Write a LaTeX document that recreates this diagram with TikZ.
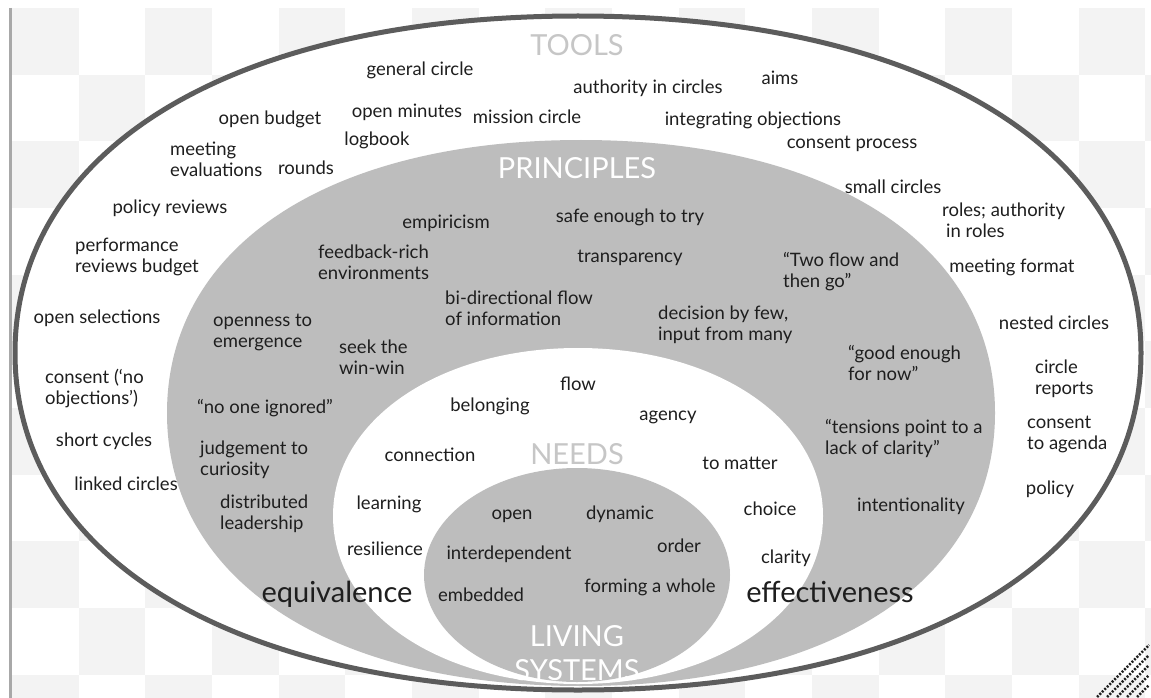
\documentclass[tikz,border=0pt]{standalone}
\usepackage{fontspec}
\setmainfont{Lato}

\definecolor{checkgray}{HTML}{F3F3F3}
\definecolor{bargray}{HTML}{A8A8A8}
\definecolor{rimgray}{HTML}{5C5C5C}
\definecolor{fillgray}{HTML}{BDBDBD}
\definecolor{headgray}{HTML}{C6C6C6}
\definecolor{ink}{HTML}{1E1E1E}

\newcommand{\blob}[6]{%
	\path[#1] (#2+#4,#3) .. controls (#2+#4,#3+#6*#5) and (#2+#6*#4,#3+#5) .. (#2,#3+#5)
		.. controls (#2-#6*#4,#3+#5) and (#2-#4,#3+#6*#5) .. (#2-#4,#3)
		.. controls (#2-#4,#3-#6*#5) and (#2-#6*#4,#3-#5) .. (#2,#3-#5)
		.. controls (#2+#6*#4,#3-#5) and (#2+#4,#3-#6*#5) .. cycle;}

\begin{document}
\begin{tikzpicture}[x=1pt,y=-1pt,
		txt/.style={inner sep=0pt, text=ink, font=\fontsize{18.5}{21}\selectfont},
		word/.style={txt, text height=1.2em, text depth=0pt},
		words/.style={txt, anchor=west, align=left},
		head/.style={inner sep=0pt, font=\fontsize{29}{34}\selectfont},
		big/.style={head, text=ink, text height=1.4em, text depth=0pt}]
			\useasboundingbox (0,0) rectangle (1151,698);
			\fill[white] (0,0) rectangle (1151,698);
			\begin{scope}
				\clip (12,8) rectangle (1151,698);
				\foreach \i in {0,...,17}
					\foreach \j in {0,...,10}{
						\pgfmathtruncatemacro{\cellparity}{mod(\i+\j,2)}
						\ifnum\cellparity=0 \fill[checkgray] ({12+66.67*\i},{8+66.67*\j}) rectangle ++(66.67,66.67); \fi
					}
			\end{scope}
			\draw[bargray, line width=3pt] (10,8) -- (10,698);
			\blob{fill=white}{578}{353}{563}{337}{0.61}
			\blob{fill=fillgray}{581}{413}{414}{273}{0.61}
			\blob{fill=white}{578}{516}{245}{168}{0.57}
			\blob{fill=fillgray}{577}{575}{153}{107}{0.5523}
			\blob{draw=rimgray, line width=5pt}{578}{353}{563}{337}{0.61}
			\node[head, text=headgray] (tools) at (577,45) {TOOLS};
			\node[word] (general) at (420,70) {general circle};
			\node[word] (minutes) at (407,112) {open minutes};
			\node[word] (logbook) at (377,140) {logbook};
			\node[word] (mission) at (527,118) {mission circle};
			\node[word] (authority) at (648,88) {authority in circles};
			\node[word] (aims) at (780,79) {aims};
			\node[word] (integrating) at (753,120) {integrating objections};
			\node[word] (process) at (852,143) {consent process};
			\node[word] (small) at (893,187) {small circles};
			\node[words] (roles) at (942,220) {roles; authority\\\hspace*{4pt}in roles};
			\node[word] (budget) at (270,119) {open budget};
			\node[words] (evaluations) at (170,159) {meeting\\evaluations};
			\node[word] (rounds) at (306,168) {rounds};
			\node[word] (reviews) at (170,207) {policy reviews};
			\node[words] (performance) at (75,257) {performance\\reviews budget};
			\node[word] (selections) at (97,317) {open selections};
			\node[words] (consent) at (45,389) {consent (‘no\\objections’)};
			\node[word] (cycles) at (104,440) {short cycles};
			\node[word] (linked) at (126,484) {linked circles};
			\node[word] (format) at (1012,266) {meeting format};
			\node[word] (nested) at (1054,323) {nested circles};
			\node[words] (reports) at (1035,379) {circle\\reports};
			\node[words] (agenda) at (1027,434) {consent\\to agenda};
			\node[word] (policy) at (1050,488) {policy};
			\node[head, text=white] (principles) at (577,168) {PRINCIPLES};
			\node[word] (empiricism) at (446,222) {empiricism};
			\node[word] (safe) at (630,216) {safe enough to try};
			\node[words] (feedback) at (318,262) {feedback-rich\\environments};
			\node[word] (transparency) at (630,256) {transparency};
			\node[words] (bidir) at (445,308) {bi-directional flow\\of information};
			\node[words] (decision) at (658,325) {decision by few,\\input from many};
			\node[words] (twoflow) at (783,272) {“Two flow and\\then go”};
			\node[words] (openness) at (213,332) {openness to\\emergence};
			\node[words] (winwin) at (339,357) {seek the\\win-win};
			\node[words] (goodenough) at (848,363) {“good enough\\for now”};
			\node[word] (ignored) at (265,407) {“no one ignored”};
			\node[words] (judgement) at (200,460) {judgement to\\curiosity};
			\node[words] (distributed) at (220,514) {distributed\\leadership};
			\node[words] (tensions) at (825,439) {“tensions point to a\\lack of clarity”};
			\node[word] (intentionality) at (911,505) {intentionality};
			\node[big] (equivalence) at (337,595) {equivalence};
			\node[big] (effectiveness) at (830,595) {effectiveness};
			\node[head, text=headgray] (needs) at (577,454) {NEEDS};
			\node[word] (flow) at (578,384) {flow};
			\node[word] (belonging) at (490,405) {belonging};
			\node[word] (agency) at (668,414) {agency};
			\node[word] (connection) at (430,455) {connection};
			\node[word] (matter) at (740,463) {to matter};
			\node[word] (learning) at (389,503) {learning};
			\node[word] (resilience) at (385,549) {resilience};
			\node[word] (choice) at (770,509) {choice};
			\node[word] (clarity) at (786,557) {clarity};
			\node[word] (open) at (512,513) {open};
			\node[word] (dynamic) at (620,513) {dynamic};
			\node[word] (interdependent) at (509,553) {interdependent};
			\node[word] (order) at (679,546) {order};
			\node[word] (embedded) at (481,595) {embedded};
			\node[word] (whole) at (650,586) {forming a whole};
			\node[head, text=white, align=center] (living) at (577,653) {LIVING\\SYSTEMS};
			\foreach \c in {1794,1804,1814,1824,1834}
				\draw[ink, line width=2.5pt, dash pattern=on 2pt off 1.5pt] (\c-697,697) -- (1149,\c-1149);
		\end{tikzpicture}
\end{document}
